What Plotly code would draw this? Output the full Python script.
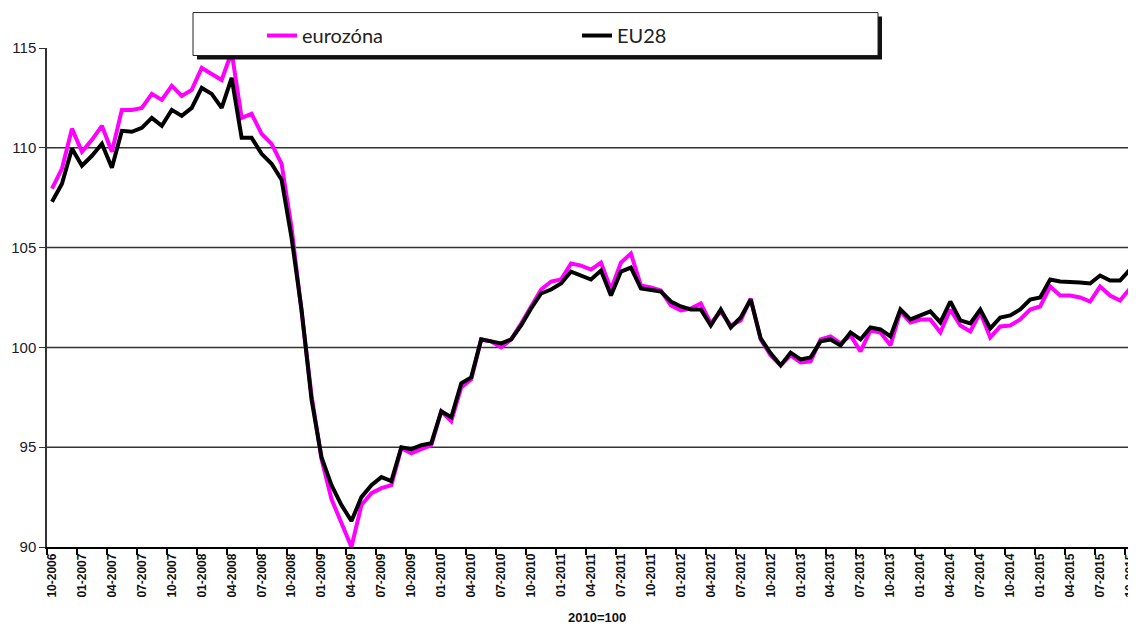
import plotly.graph_objects as go

# monthly, 10-2006 .. 10-2015
eurozone = [
    107.96, 108.96, 110.96, 109.8, 110.4, 111.1, 109.8, 111.9, 111.9, 112.0,
    112.7, 112.4, 113.1, 112.6, 112.9, 114.0, 113.7, 113.4, 114.8, 111.5,
    111.7, 110.7, 110.2, 109.2, 106.0, 101.7, 97.6, 94.4, 92.4, 91.2,
    90.0, 92.1, 92.7, 92.95, 93.1, 94.95, 94.7, 94.9, 95.1, 96.8,
    96.3, 98.0, 98.4, 100.4, 100.3, 100.0, 100.4, 101.2, 102.1, 102.9,
    103.3, 103.4, 104.2, 104.1, 103.9, 104.25, 102.9, 104.25, 104.7, 103.1,
    103.0, 102.85, 102.1, 101.85, 101.95, 102.2, 101.2, 101.8, 101.1, 101.35,
    102.45, 100.4, 99.6, 99.1, 99.6, 99.25, 99.3, 100.4, 100.55, 100.2,
    100.6, 99.8, 100.85, 100.75, 100.1, 101.8, 101.25, 101.4, 101.4, 100.75,
    101.9, 101.1, 100.8, 101.75, 100.5, 101.05, 101.1, 101.4, 101.9, 102.05,
    103.05, 102.6, 102.6, 102.5, 102.3, 103.05, 102.6, 102.35, 102.95,
]
eu28 = [
    107.3, 108.2, 109.96, 109.1, 109.6, 110.2, 109.0, 110.85, 110.8, 111.0,
    111.5, 111.1, 111.9, 111.6, 112.0, 113.0, 112.7, 112.0, 113.5, 110.5,
    110.5, 109.7, 109.2, 108.4, 105.5, 101.9, 97.4, 94.5, 93.1, 92.1,
    91.3, 92.5, 93.1, 93.5, 93.3, 95.0, 94.9, 95.1, 95.2, 96.8,
    96.5, 98.2, 98.5, 100.4, 100.3, 100.2, 100.4, 101.1, 101.95, 102.7,
    102.9, 103.2, 103.8, 103.6, 103.4, 103.85, 102.6, 103.8, 104.0, 102.96,
    102.9, 102.8, 102.3, 102.05, 101.9, 101.9, 101.1, 101.9, 101.0, 101.5,
    102.4, 100.45, 99.7, 99.1, 99.74, 99.4, 99.5, 100.3, 100.4, 100.1,
    100.75, 100.4, 101.0, 100.9, 100.55, 101.9, 101.4, 101.6, 101.8, 101.25,
    102.3, 101.35, 101.2, 101.9, 100.95, 101.5, 101.6, 101.9, 102.4, 102.5,
    103.4, 103.3, 103.3, 103.25, 103.2, 103.6, 103.35, 103.35, 103.9,
]
months = []
m, y = 10, 2006
for _ in range(len(eu28)):
    months.append(f"{m:02d}-{y}")
    m += 1
    if m > 12:
        m, y = 1, y + 1
tick_labels = months[::3]
y_ticks = [90, 95, 100, 105, 110, 115]
grid_values = [95, 100, 105, 110]
idx = list(range(len(months)))

fig = go.Figure()
fig.add_trace(go.Scatter(x=idx, y=eurozone, mode="lines", name="eurozóna",
                         line=dict(color="#FF00FF", width=4), cliponaxis=False))
fig.add_trace(go.Scatter(x=idx, y=eu28, mode="lines", name="EU28",
                         line=dict(color="#000000", width=4), cliponaxis=False))

# page has an 8px body margin: figure sits at (8, 8) in the window
OFF = 8
FW, FH = 1136 - OFF, 629 - OFF
L, T, W, H = 47 - OFF, 47.5 - OFF, 1088, 500   # plot area in figure px
def px(x): return (x - OFF - L) / W            # page px -> paper x
def py(y): return (T + H - (y - OFF)) / H      # page px -> paper y

shapes = []
for g in grid_values:
    shapes.append(dict(type="line", xref="paper", yref="y", x0=0, x1=1, y0=g, y1=g,
                       line=dict(color="#333333", width=1.5), layer="below"))
# legend box with shadow
shapes.append(dict(type="rect", xref="paper", yref="paper",
                   x0=px(197), x1=px(882), y0=py(59), y1=py(16),
                   fillcolor="#111111", line=dict(width=0), layer="above"))
shapes.append(dict(type="rect", xref="paper", yref="paper",
                   x0=px(193), x1=px(878), y0=py(55), y1=py(12),
                   fillcolor="white", line=dict(color="#222222", width=1), layer="above"))

minor_ticks = [i - 0.5 for i in idx[::3]] + [len(months) - 1.5]

fig.update_layout(
    width=FW, height=FH,
    margin=dict(l=L, r=FW - L - W, t=T, b=FH - T - H, autoexpand=False),
    paper_bgcolor="white", plot_bgcolor="white",
    shapes=shapes,
    showlegend=True,
    legend=dict(orientation="h", x=px(262), y=py(35), xanchor="left", yanchor="middle",
                bgcolor="rgba(0,0,0,0)", font=dict(family="Lato", size=20, color="#222"),
                entrywidth=270, entrywidthmode="pixels", itemwidth=30),
    xaxis=dict(range=[-0.5, len(months) - 0.5], tickmode="array",
               tickvals=idx[::3], ticktext=tick_labels, tickangle=-90,
               ticklabeloverflow="allow",
               ticks="", showgrid=False, zeroline=False, automargin=False,
               showline=True, linecolor="#000000", linewidth=1.5,
               tickfont=dict(family="Liberation Sans", size=12, color="#111", weight="bold"),
               minor=dict(tickmode="array", tickvals=minor_ticks,
                          ticks="outside", ticklen=6, tickcolor="#000", tickwidth=1.5)),
    yaxis=dict(range=[90, 115], tickmode="array", tickvals=y_ticks, automargin=False,
               ticks="outside", ticklen=6, tickcolor="#333", showgrid=False, zeroline=False,
               showline=True, linecolor="#333", linewidth=1.5,
               tickfont=dict(family="Liberation Sans", size=15, color="#1a1a2a")),
    annotations=[dict(text="<b>2010=100</b>", xref="paper", yref="paper",
                      x=px(597), y=py(618), xanchor="center", yanchor="middle",
                      showarrow=False,
                      font=dict(family="Liberation Sans", size=13, color="#111"))],
)

fig.write_html("out.html")
